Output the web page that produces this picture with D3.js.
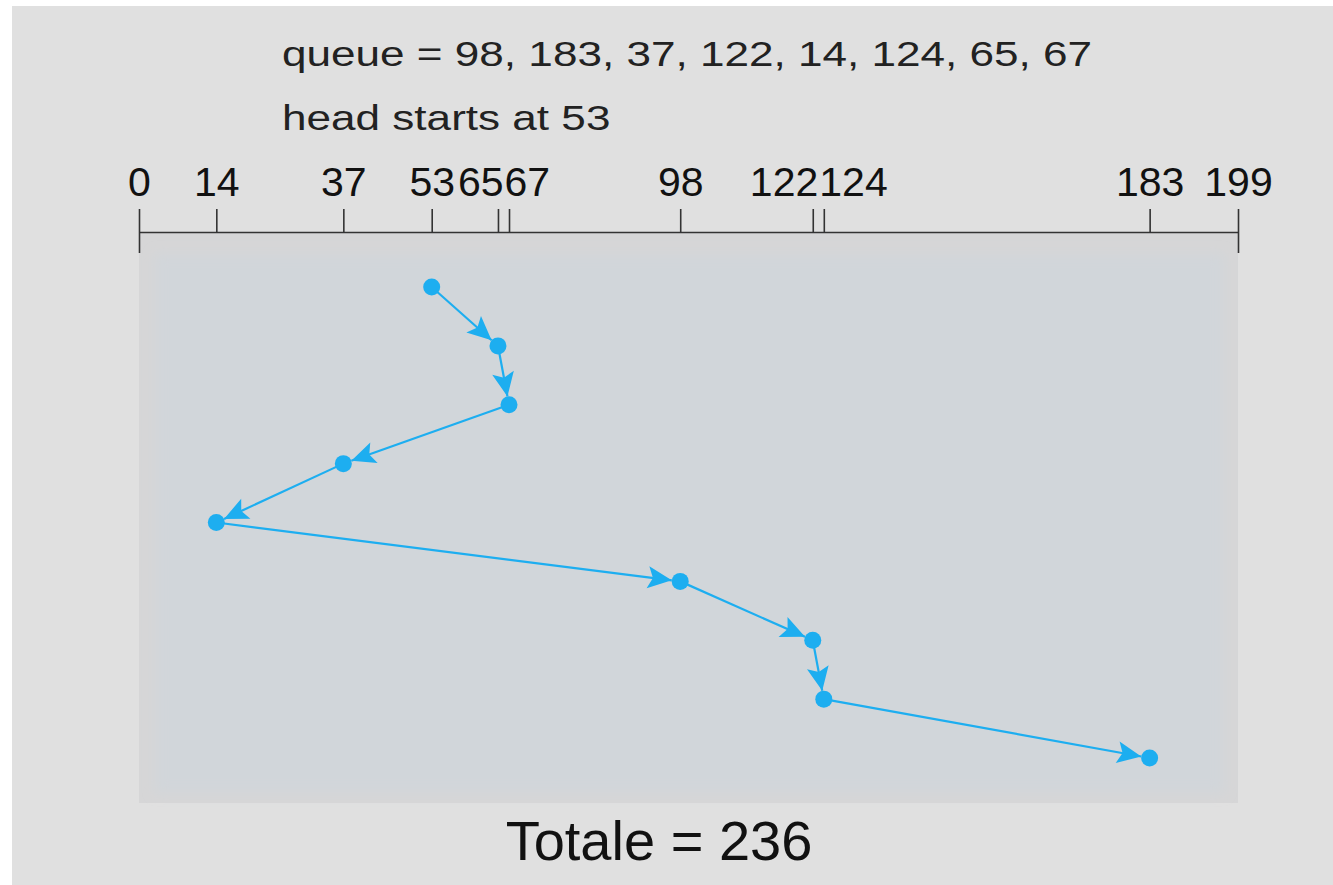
<!DOCTYPE html>
<html lang="en">
<head>
<meta charset="utf-8">
<title>SSTF disk scheduling</title>
<script src="https://d3js.org/d3.v7.min.js"></script>
<style>
  html, body { margin: 0; padding: 0; background: #ffffff; }
  svg { display: block; }
  text { font-family: "Liberation Sans", Arial, Helvetica, sans-serif; }
</style>
</head>
<body>
<script>
// request queue and head start, as printed in the figure
var queue = [98, 183, 37, 122, 14, 124, 65, 67];
var headStart = 53;
// order in which the head visits the cylinders
var visits = [53, 65, 67, 37, 14, 98, 122, 124, 183];
var cylinders = [0, 199];
var tickValues = [0, 14, 37, 53, 65, 67, 98, 122, 124, 183, 199];

var width = 1333, height = 885;
var blue = "#1daef0";

var svg = d3.select("body").append("svg")
    .attr("width", width)
    .attr("height", height);

// page background
svg.append("rect")
    .attr("x", 12).attr("y", 6)
    .attr("width", width - 12).attr("height", height - 6)
    .attr("fill", "#e0e0e0");

var x = d3.scaleLinear().domain(cylinders).range([139, 1238]);
var y = d3.scalePoint().domain(d3.range(visits.length)).range([287, 758]);

var axisY = 232;

// plot panel
var defs = svg.append("defs");
defs.append("filter").attr("id", "soft")
    .attr("x", "-5%").attr("y", "-5%").attr("width", "110%").attr("height", "110%")
  .append("feGaussianBlur").attr("stdDeviation", 6);

svg.append("rect")
    .attr("x", x(0)).attr("y", axisY + 1)
    .attr("width", x(199) - x(0)).attr("height", 803 - axisY - 1)
    .attr("fill", "#d6d6d7");
svg.append("rect")
    .attr("x", x(0) + 16).attr("y", axisY + 22)
    .attr("width", x(199) - x(0) - 30).attr("height", 803 - axisY - 32)
    .attr("fill", "#d1d6da")
    .attr("filter", "url(#soft)");

// top axis
var axis = svg.append("g")
    .attr("transform", "translate(0," + axisY + ")")
    .call(d3.axisTop(x).tickValues(tickValues).tickSize(23).tickSizeOuter(0).tickPadding(13));

axis.select(".domain").attr("stroke", "#333").attr("stroke-width", 1.6);
axis.selectAll(".tick line").attr("stroke", "#333").attr("stroke-width", 1.6);
axis.selectAll(".tick text")
    .attr("fill", "#111")
    .attr("font-size", 41)
    .attr("font-family", "'Liberation Sans', Arial, sans-serif");

// end ticks reaching below the axis line
svg.append("g")
    .attr("transform", "translate(0," + axisY + ")")
    .call(d3.axisBottom(x).tickValues(cylinders).tickSize(21).tickSizeOuter(0).tickFormat(""))
    .call(function(g) {
      g.select(".domain").remove();
      g.selectAll(".tick line").attr("stroke", "#333").attr("stroke-width", 1.6);
    });

// push crowded tick labels apart so they don't overlap
var labels = axis.selectAll(".tick").nodes().map(function(n) {
  var t = d3.select(n).select("text");
  return { text: t, tick: x(d3.select(n).datum()), w: t.node().getComputedTextLength(), dx: 0 };
}).sort(function(a, b) { return a.tick - b.tick; });

for (var it = 0; it < 200; it++) {
  for (var i = 0; i < labels.length - 1; i++) {
    var a = labels[i], b = labels[i + 1];
    var overlap = (a.tick + a.dx + a.w / 2 + 1) - (b.tick + b.dx - b.w / 2);
    if (overlap > 0) { a.dx -= overlap / 2; b.dx += overlap / 2; }
  }
}
labels.forEach(function(l) { l.text.attr("x", l.dx); });

// header lines
var header = [
  "queue = " + queue.join(", "),
  "head starts at " + headStart
];
svg.selectAll(".header")
    .data(header)
    .enter().append("text")
    .attr("class", "header")
    .attr("transform", function(d, i) { return "translate(282," + (66 + i * 64) + ") scale(1.26,1)"; })
    .attr("font-size", 35)
    .attr("fill", "#222")
    .text(function(d) { return d; });

// head movement
var marker = defs.append("marker")
    .attr("id", "arrow")
    .attr("viewBox", "-25 -13 27 26")
    .attr("refX", 0).attr("refY", 0)
    .attr("markerWidth", 27).attr("markerHeight", 26)
    .attr("markerUnits", "userSpaceOnUse")
    .attr("orient", "auto");
marker.append("path")
    .attr("d", "M0,0 L-24,-11 L-19,0 L-24,11 Z")
    .attr("fill", blue);

var r = 8.5;
var moves = d3.pairs(visits.map(function(v, i) { return { v: v, i: i }; }));

svg.selectAll(".move")
    .data(moves)
    .enter().append("line")
    .attr("class", "move")
    .each(function(d) {
      var x1 = x(d[0].v), y1 = y(d[0].i), x2 = x(d[1].v), y2 = y(d[1].i);
      var len = Math.hypot(x2 - x1, y2 - y1);
      d3.select(this)
        .attr("x1", x1).attr("y1", y1)
        .attr("x2", x2 - (x2 - x1) / len * r)
        .attr("y2", y2 - (y2 - y1) / len * r);
    })
    .attr("stroke", blue)
    .attr("stroke-width", 2.2)
    .attr("marker-end", "url(#arrow)");

svg.selectAll(".stop")
    .data(visits)
    .enter().append("circle")
    .attr("class", "stop")
    .attr("cx", function(d) { return x(d); })
    .attr("cy", function(d, i) { return y(i); })
    .attr("r", r)
    .attr("fill", blue);

// total head movement
var total = d3.sum(moves, function(d) { return Math.abs(d[1].v - d[0].v); });

svg.append("text")
    .attr("x", 659).attr("y", 860)
    .attr("text-anchor", "middle")
    .attr("font-size", 56)
    .attr("fill", "#111")
    .text("Totale = " + total);
</script>
</body>
</html>
